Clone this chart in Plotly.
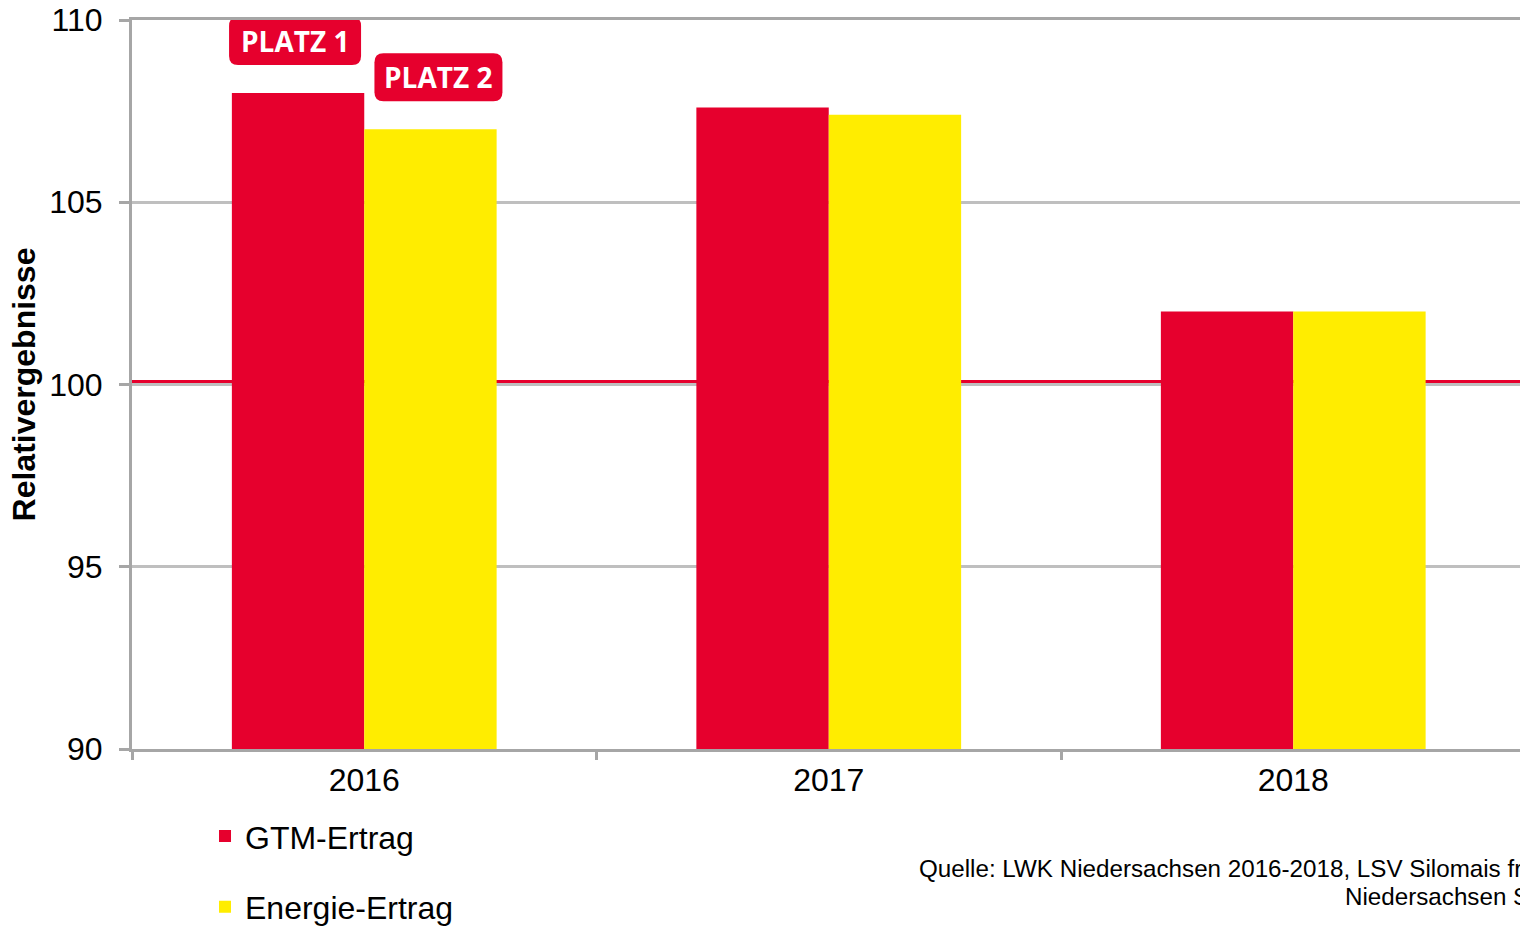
import plotly.graph_objects as go

# ---- data ----
years = ["2016", "2017", "2018"]
gtm_ertrag = [108.0, 107.6, 102.0]
energie_ertrag = [107.0, 107.4, 102.0]
series_names = ["GTM-Ertrag", "Energie-Ertrag"]
reference_level = 100.08
y_ticks = [90, 95, 100, 105, 110]
rank_labels = ["PLATZ 1", "PLATZ 2"]
source_lines = ["Quelle: LWK Niedersachsen 2016-2018, LSV Silomais früh",
                "Niedersachsen Süd"]

# ---- style ----
RED = "#E6002D"
YELLOW = "#FFED00"
GRID = "#BFBFBF"
AXIS = "#A6A6A6"
FONT = "Liberation Sans, Arial, sans-serif"
BARGAP = 0.43

W, H = 1520, 926
M_L, M_T, M_B, M_R = 132, 20, 177, 0
plot_w = W - M_L - M_R
plot_h = H - M_T - M_B
cat_px = 464.5
x_max = -0.5 + plot_w / cat_px


def px_to_paper_x(px):
    return (px - M_L) / plot_w


def px_to_paper_y(py):
    return ((M_T + plot_h) - py) / plot_h


fig = go.Figure()
fig.add_trace(go.Bar(x=list(range(len(years))), y=gtm_ertrag, name=series_names[0],
                     marker=dict(color=RED, line=dict(width=0)), legendgroup="a"))
fig.add_trace(go.Bar(x=list(range(len(years))), y=energie_ertrag, name=series_names[1],
                     marker=dict(color=YELLOW, line=dict(width=0)), legendgroup="b"))

# reference line at 100 (behind bars)
fig.add_shape(type="line", xref="paper", x0=0, x1=1, yref="y",
              y0=reference_level, y1=reference_level,
              line=dict(color=RED, width=3), layer="below")

# rank labels on 2016 bars (rounded boxes)
half = (1 - BARGAP) / 4
anchors = [(0 - half, gtm_ertrag[0]), (0 + half, energie_ertrag[0])]
box_h, r, gap = 48, 9, 28
for (ax, ay), lbl, dx, bw in zip(anchors, rank_labels, [-3, 8], [132, 128]):
    x0, x1 = dx - bw / 2, dx + bw / 2
    y0, y1 = gap, gap + box_h
    path = (f"M{x0+r},{y0} L{x1-r},{y0} Q{x1},{y0} {x1},{y0+r} L{x1},{y1-r} "
            f"Q{x1},{y1} {x1-r},{y1} L{x0+r},{y1} Q{x0},{y1} {x0},{y1-r} "
            f"L{x0},{y0+r} Q{x0},{y0} {x0+r},{y0} Z")
    fig.add_shape(type="path", path=path, xref="x", yref="y",
                  xsizemode="pixel", ysizemode="pixel", xanchor=ax, yanchor=ay,
                  fillcolor=RED, line=dict(width=0), layer="above")
    fig.add_annotation(x=ax, y=ay, xref="x", yref="y", text=f"<b>{lbl}</b>",
                       showarrow=False, xshift=dx, yshift=gap + box_h / 2,
                       xanchor="center", yanchor="middle",
                       font=dict(family="Open Sans, sans-serif", size=28, color="white"))

# source note (runs past the right edge, as in the original)
for line, (lx, ly) in zip(source_lines, [(917, 868), (1343, 896)]):
    fig.add_annotation(xref="paper", yref="paper", x=px_to_paper_x(lx),
                       y=px_to_paper_y(ly), xanchor="left", yanchor="middle",
                       showarrow=False, text=line,
                       font=dict(family=FONT, size=24.2, color="black"))

fig.update_layout(
    width=W, height=H,
    margin=dict(l=M_L, r=M_R, t=M_T, b=M_B, pad=0, autoexpand=False),
    paper_bgcolor="white", plot_bgcolor="white",
    barmode="group", bargap=BARGAP, bargroupgap=0,
    font=dict(family=FONT, color="black"),
    showlegend=True,
    legend=dict(x=0.0526, y=-0.082, xanchor="left", yanchor="top",
                traceorder="grouped", tracegroupgap=26,
                font=dict(family=FONT, size=32, color="black"),
                bgcolor="rgba(0,0,0,0)"),
    xaxis=dict(type="linear", range=[-0.5, x_max], tickmode="array",
               tickvals=list(range(len(years))), ticktext=years,
               ticks="", showgrid=False, zeroline=False, mirror=True,
               showline=True, linecolor=AXIS, linewidth=3, ticklabelstandoff=1,
               tickfont=dict(family=FONT, size=32, color="black")),
    yaxis=dict(range=[90, 110], tickvals=y_ticks, ticks="outside", ticklen=10,
               tickwidth=3, tickcolor=AXIS, showgrid=True, gridcolor=GRID, gridwidth=3,
               zeroline=False, showline=True, linecolor=AXIS, linewidth=3,
               ticklabelstandoff=10, ticklabeloverflow="allow",
               tickfont=dict(family=FONT, size=32, color="black"),
               title=dict(text="<b>Relativergebnisse</b>", standoff=5,
                          font=dict(family=FONT, size=32, color="black"))),
)

# x-axis tick marks at category boundaries via minor ticks
fig.update_xaxes(minor=dict(tickvals=[i - 0.5 for i in range(len(years) + 1)],
                            ticks="outside", ticklen=8, tickwidth=3, tickcolor=AXIS,
                            showgrid=False))

fig.write_html("out.html", config={"displayModeBar": False},
               post_script="document.body.style.margin='0px';")
